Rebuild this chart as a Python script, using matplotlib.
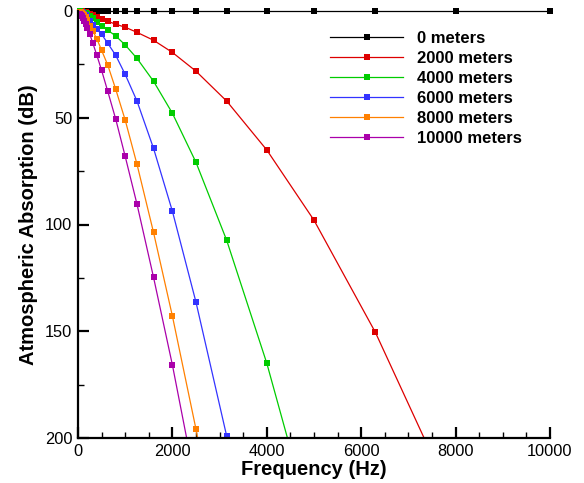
import matplotlib
matplotlib.use("Agg")
import matplotlib.pyplot as plt
from matplotlib.patches import Rectangle
from matplotlib.ticker import MultipleLocator

plt.rcParams["font.family"] = ["Liberation Sans", "DejaVu Sans"]

# 1/3-octave band centre frequencies (Hz)
freqs = [50, 63, 80, 100, 125, 160, 200, 250, 315, 400, 500, 630, 800,
         1000, 1250, 1600, 2000, 2500, 3150, 4000, 5000, 6300, 8000, 10000]

# absorption (dB); last values run past the 200 dB limit
abs_0 = [0.0] * len(freqs)
abs_2000 = [0.1, 0.15, 0.2, 0.3, 0.4, 0.6, 0.9, 1.3, 1.9, 2.7, 3.7, 4.8, 6.2,
            7.6, 10.0, 13.7, 19.4, 28.2, 42.2, 65.1, 98.0, 150.5, 232.0, 340.0]
abs_4000 = [0.2, 0.3, 0.4, 0.6, 0.8, 1.1, 1.6, 2.4, 3.5, 5.3, 7.0, 9.0, 11.7,
            15.9, 22.2, 32.9, 47.9, 70.9, 107.4, 165.0, 245.0]
abs_6000 = [0.3, 0.5, 0.7, 1.0, 1.4, 2.0, 2.9, 4.8, 6.5, 8.6, 10.9, 15.1, 20.8,
            29.7, 42.2, 64.3, 93.8, 136.4, 199.1, 290.0]
abs_8000 = [0.5, 0.7, 1.0, 1.4, 2.0, 2.9, 4.2, 6.9, 9.4, 13.1, 18.4, 25.3, 36.7,
            51.1, 71.8, 103.7, 142.9, 195.9, 275.0]
abs_10000 = [1.3, 1.8, 2.5, 3.3, 4.5, 6.0, 8.1, 10.9, 15.1, 20.8, 27.8, 37.6, 50.7,
             68.1, 90.5, 124.7, 165.8, 222.5]

series = [
    ("0 meters", abs_0, "#000000"),
    ("2000 meters", abs_2000, "#dd0000"),
    ("4000 meters", abs_4000, "#00cc00"),
    ("6000 meters", abs_6000, "#3333ff"),
    ("8000 meters", abs_8000, "#ff8000"),
    ("10000 meters", abs_10000, "#aa00aa"),
]

fig = plt.figure(figsize=(5.84, 4.83), dpi=100)
ax = fig.add_axes([78 / 584, 1 - 438 / 483, (550 - 78) / 584, (438 - 11) / 483])

# let the markers on the edges show in full, but cut lines at the bottom
clip = Rectangle((-0.02, 0.0), 1.04, 1.03, transform=ax.transAxes,
                 facecolor="none", edgecolor="none")
ax.add_patch(clip)

for label, vals, color in series:
    line, = ax.plot(freqs[:len(vals)], vals, color=color, lw=0.9,
                    marker="s", markersize=4.3, markeredgewidth=0,
                    label=label)
    line.set_clip_path(clip)

ax.set_xlim(0, 10000)
ax.set_ylim(200, 0)
ax.xaxis.set_major_locator(MultipleLocator(2000))
ax.xaxis.set_minor_locator(MultipleLocator(500))
ax.yaxis.set_major_locator(MultipleLocator(50))
ax.yaxis.set_minor_locator(MultipleLocator(25))

for side in ("top", "right"):
    ax.spines[side].set_visible(False)
for side in ("left", "bottom"):
    ax.spines[side].set_linewidth(1.6)

ax.tick_params(which="major", direction="in", length=8, width=1.6,
               labelsize=11.8, pad=4)
ax.tick_params(which="minor", direction="in", length=4.5, width=1.0)

ax.set_xlabel("Frequency (Hz)", fontsize=14.5, fontweight="bold", labelpad=1)
ax.set_ylabel("Atmospheric Absorption (dB)", fontsize=14.5, fontweight="bold",
              labelpad=5)

ax.legend(loc="upper left", bbox_to_anchor=(330 / 584, 1 - 31 / 483),
          bbox_transform=fig.transFigure, frameon=False, borderpad=0,
          borderaxespad=0, handlelength=4.4, handletextpad=0.8,
          labelspacing=0.3, prop={"size": 12, "weight": "bold"})

fig.savefig("out.png", dpi=100)
